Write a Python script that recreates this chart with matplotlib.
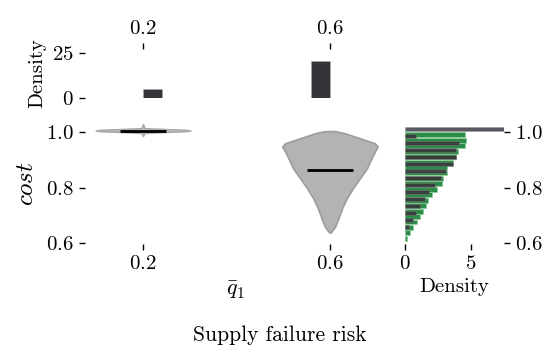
import numpy as np
import matplotlib
matplotlib.use("Agg")
import matplotlib.pyplot as plt
from matplotlib.ticker import FixedLocator

plt.rcParams['font.family'] = 'serif'
plt.rcParams['font.serif'] = ['cmr10']
plt.rcParams['mathtext.fontset'] = 'cm'
plt.rcParams['axes.formatter.use_mathtext'] = True

# ---- data ----
q_levels = [0.2, 0.6]

# violin outlines: cost level and half width (in q units)
v02_cost = [0.987, 0.992, 0.998, 1.000, 1.002, 1.004, 1.007, 1.010, 1.012, 1.014, 1.016, 1.022, 1.031]
v02_hw = [0.0, 0.002, 0.003, 0.030, 0.055, 0.090, 0.1016, 0.090, 0.055, 0.030, 0.003, 0.002, 0.0]
v06_cost = [0.637, 0.639, 0.659, 0.689, 0.726, 0.762, 0.798, 0.834, 0.870, 0.907,
            0.931, 0.949, 0.961, 0.979, 0.997, 1.005]
v06_hw = [0.0, 0.002, 0.011, 0.018, 0.026, 0.036, 0.049, 0.064, 0.079, 0.089,
          0.096, 0.102, 0.096, 0.064, 0.032, 0.011]
medians = [1.007, 0.864]

# top marginal histogram of q
top_bin_left = [0.20, 0.56]
top_bin_width = 0.04
top_density = [5.0, 20.5]

# right marginal histograms of cost
grey_bin = [1.0055, 1.021]
grey_density = 60.0
green_edges = np.linspace(0.607, 1.001, 21)
green_density = [0.15, 0.36, 0.64, 0.9, 1.15, 1.36, 1.59, 1.74, 2.05, 2.46,
                 2.82, 2.9, 3.15, 3.2, 3.67, 3.85, 4.05, 4.54, 4.64, 4.54]
dark_edges = np.linspace(0.645, 1.0, 15)
dark_density = [0.33, 0.6, 0.85, 1.1, 1.54, 1.8, 2.3, 2.74, 3.08, 3.67,
                3.85, 3.85, 4.1, 0.82]

W, H = 555, 346
fig = plt.figure(figsize=(W / 100, H / 100), dpi=100)


def px_axes(l, t, r, b):
    return fig.add_axes([l / W, 1 - b / H, (r - l) / W, (b - t) / H])


ax = px_axes(85, 122.8, 398, 243.5)
ax_top = px_axes(85, 49, 398, 98)
ax_r = px_axes(405, 122.8, 504, 243.5)

fs = 15
for a in (ax, ax_top, ax_r):
    for s in a.spines.values():
        s.set_visible(False)
    a.tick_params(length=4, width=1, labelsize=fs, pad=4)
    a.patch.set_alpha(0)

# violins
ax.fill_betweenx(v02_cost, q_levels[0] - np.array(v02_hw), q_levels[0] + np.array(v02_hw),
                 facecolor='#bdbdbd', edgecolor='#a8a8a8', lw=1)
ax.fill_betweenx(v06_cost, q_levels[1] - np.array(v06_hw), q_levels[1] + np.array(v06_hw),
                 facecolor='#b3b3b3', edgecolor='#9c9c9c', lw=1.2)
for q, m in zip(q_levels, medians):
    ax.plot([q - 0.05, q + 0.05], [m, m], color='black', lw=2, solid_capstyle='butt')

ax.set_xlim(0.0759, 0.7455)
ax.set_ylim(0.598, 1.035)
ax.xaxis.set_major_locator(FixedLocator(q_levels))
ax.yaxis.set_major_locator(FixedLocator([0.6, 0.8, 1.0]))
ax.set_xlabel(r'$\bar{q}_1$', fontsize=16)
ax.xaxis.set_label_coords(0.482, -0.30)
ax.set_ylabel(r'$cost$', fontsize=18, labelpad=6)

# top marginal
ax_top.bar(top_bin_left, top_density, width=top_bin_width, align='edge',
           color='#333338', edgecolor='#aaaaaa', lw=0.4)
ax_top.set_xlim(ax.get_xlim())
ax_top.set_ylim(0, 27.2)
ax_top.xaxis.set_major_locator(FixedLocator(q_levels))
ax_top.yaxis.set_major_locator(FixedLocator([0, 25]))
ax_top.tick_params(axis='x', top=True, labeltop=True, bottom=False, labelbottom=False)
ax_top.set_ylabel('Density', fontsize=fs, labelpad=4)

# right marginal
ax_r.barh(grey_bin[0], grey_density, height=grey_bin[1] - grey_bin[0], align='edge',
          color='#58585e', edgecolor='#999999', lw=0.4)
gw = green_edges[1] - green_edges[0]
ax_r.barh(green_edges[:-1] + 0.05 * gw, green_density, height=0.9 * gw, align='edge',
          color='#2a8c47', edgecolor='#8fcf9c', lw=0.5)
dw = dark_edges[1] - dark_edges[0]
ax_r.barh(dark_edges[:-1] + 0.2 * dw, dark_density, height=0.6 * dw, align='edge',
          color='#383b3b', alpha=0.93, edgecolor='#7a7a7a', lw=0.4)
ax_r.set_xlim(0, 7.5)
ax_r.set_ylim(ax.get_ylim())
ax_r.xaxis.set_major_locator(FixedLocator([0, 5]))
ax_r.yaxis.set_major_locator(FixedLocator([0.6, 0.8, 1.0]))
ax_r.tick_params(axis='y', left=False, labelleft=False, right=True, labelright=True)
ax_r.set_xlabel('Density', fontsize=fs, labelpad=4)

fig.text(0.505, 0.032, 'Supply failure risk', ha='center', va='center', fontsize=15.5)

fig.savefig('out.png', dpi=100)
